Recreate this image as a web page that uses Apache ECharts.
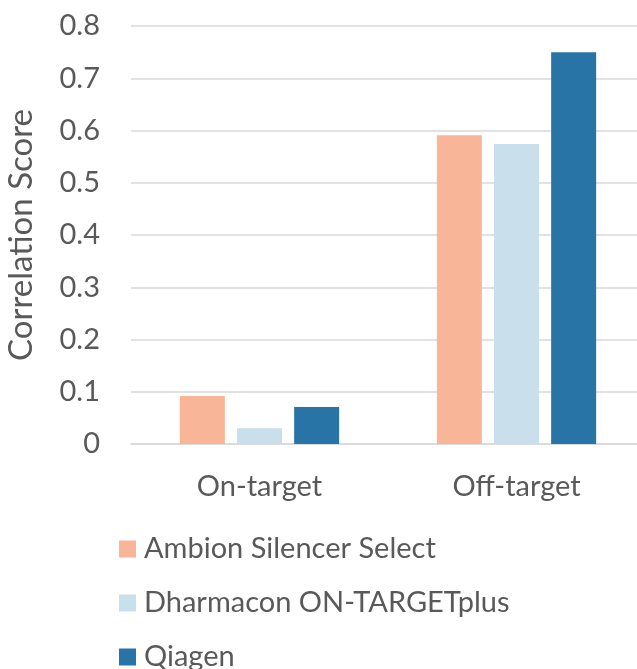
<!DOCTYPE html>
<html>
<head>
<meta charset="utf-8">
<script src="https://cdn.jsdelivr.net/npm/echarts@6/dist/echarts.min.js"></script>
<style>
  html, body { margin: 0; padding: 0; background: #fff; }
  #chart { width: 637px; height: 669px; }
</style>
</head>
<body>
<div id="chart"></div>
<script>
const categories = ['On-target', 'Off-target']
const seriesNames = ['Ambion Silencer Select', 'Dharmacon ON-TARGETplus', 'Qiagen']
const ambion = [0.092, 0.591]
const dharmacon = [0.030, 0.574]
const qiagen = [0.071, 0.750]
const colors = ['#F8B597', '#C9DFEC', '#2874A6']

const font = 'Lato, "Open Sans", sans-serif'
const textColor = '#595959'

const chart = echarts.init(document.getElementById('chart'), null, { renderer: 'canvas' })

const series = [ambion, dharmacon, qiagen].map((data, i) => ({
  name: seriesNames[i], type: 'bar', data,
  barWidth: 45, barGap: '27%',
  itemStyle: { color: colors[i] },
}))

chart.setOption({
  backgroundColor: '#fff',
  animation: false,
  color: colors,
  grid: { left: 131, top: 26, width: 514, height: 418, outerBoundsMode: 'none' },
  legend: {
    orient: 'vertical', left: 119, top: 534, height: 300, padding: 0,
    itemWidth: 17, itemHeight: 17, itemGap: 24,
    icon: 'rect',
    textStyle: { color: textColor, fontSize: 29, fontFamily: font, lineHeight: 30, padding: [0, 0, 0, 3] },
    data: seriesNames,
  },
  xAxis: {
    type: 'category', data: categories,
    axisLine: { lineStyle: { color: '#D9D9D9', width: 1.5 } },
    axisTick: { show: false },
    axisLabel: { color: textColor, fontSize: 29, fontFamily: font, margin: 28 },
  },
  yAxis: {
    type: 'value', min: 0, max: 0.8, interval: 0.1,
    name: 'Correlation Score', nameLocation: 'middle', nameGap: 93,
    nameTextStyle: { color: textColor, fontSize: 33, fontFamily: font },
    axisLine: { show: false }, axisTick: { show: false },
    axisLabel: { color: textColor, fontSize: 29, fontFamily: font, margin: 31,
      formatter: v => (Math.round(v * 10) / 10).toString() },
    splitLine: { lineStyle: { color: '#D9D9D9', width: 1.5 } },
  },
  series,
})
</script>
</body>
</html>
